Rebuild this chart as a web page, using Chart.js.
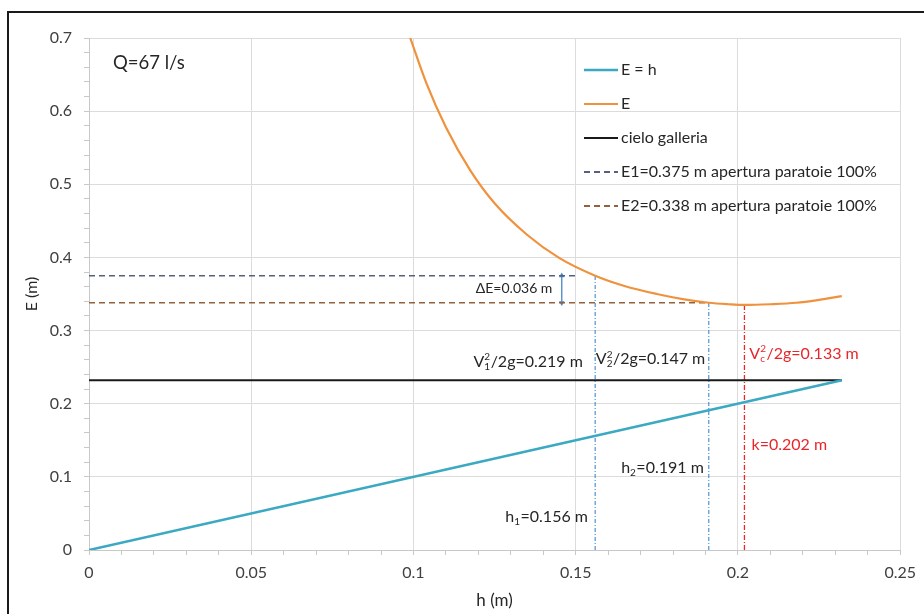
<!DOCTYPE html>
<html>
<head>
<meta charset="utf-8">
<script src="https://cdn.jsdelivr.net/npm/chart.js@4"></script>
<style>
  html, body { margin:0; padding:0; background:#fff; overflow:hidden; }
  #frame { position:absolute; left:7px; top:11px; width:1000px; height:700px; border:2px solid #1a1a1a; }
  #wrap { position:absolute; left:0; top:0; width:924px; height:614px; }
</style>
</head>
<body>
<div id="frame"></div>
<div id="wrap"><canvas id="chart" width="924" height="614"></canvas></div>
<script>

/* DATA */

const lineH = [0, 0.232];            // E = h
const lineE = [0, 0.232];

const curveH = [0.099, 0.104, 0.11, 0.1175, 0.125, 0.135, 0.145, 0.156, 0.165, 0.175, 0.183, 0.191, 0.197, 0.202, 0.210, 0.218, 0.225, 0.232];
const curveE = [0.700, 0.638, 0.578, 0.519, 0.474, 0.431, 0.399, 0.375, 0.361, 0.350, 0.343, 0.338, 0.336, 0.335, 0.336, 0.338, 0.342, 0.347];

const cieloH = [0, 0.232];
const cieloE = [0.232, 0.232];

const e1H = [0, 0.15];
const e1E = [0.375, 0.375];
const e2H = [0, 0.191];
const e2E = [0.338, 0.338];

const h1 = 0.156, h2 = 0.191, hk = 0.202;
const h1Top = 0.375, h2Top = 0.338, hkTop = 0.335;

const deltaH = 0.1457;
const deltaE = [0.338, 0.375];

const xTicks = [0, 0.05, 0.1, 0.15, 0.2, 0.25];
const yTicks = [0, 0.1, 0.2, 0.3, 0.4, 0.5, 0.6, 0.7];

const legendLabels = ["E = h", "E", "cielo galleria",
  "E1=0.375 m apertura paratoie 100%", "E2=0.338 m apertura paratoie 100%"];

/* HELPERS */

const pts = (xs, ys) => xs.map((x, i) => ({ x, y: ys[i] }));
const isMajor = (v, step) => Math.abs(v / step - Math.round(v / step)) < 1e-6;
const FONT = "Lato, 'Open Sans', sans-serif";

const colors = {
  teal: "#3ba9c2",
  orange: "#f0923d",
  black: "#1a1a1a",
  e1: "#55607e",
  e2: "#96603a",
  blue: "#5b9bd5",
  red: "#e8262a"
};

/* DATASETS */

const datasets = [
  { label: legendLabels[0], data: pts(lineH, lineE), borderColor: colors.teal, borderWidth: 2.6 },
  { label: legendLabels[1], data: pts(curveH, curveE), borderColor: colors.orange, borderWidth: 2.2, cubicInterpolationMode: "monotone" },
  { label: legendLabels[2], data: pts(cieloH, cieloE), borderColor: colors.black, borderWidth: 2 },
  { label: legendLabels[3], data: pts(e1H, e1E), borderColor: colors.e1, borderWidth: 1.6, borderDash: [6, 4] },
  { label: legendLabels[4], data: pts(e2H, e2E), borderColor: colors.e2, borderWidth: 1.6, borderDash: [6, 4] },
  { label: "h1", data: pts([h1, h1], [0, h1Top]), borderColor: colors.blue, borderWidth: 1.3, borderDash: [4, 2, 1, 2] },
  { label: "h2", data: pts([h2, h2], [0, h2Top]), borderColor: colors.blue, borderWidth: 1.3, borderDash: [4, 2, 1, 2] },
  { label: "k", data: pts([hk, hk], [0, hkTop]), borderColor: colors.red, borderWidth: 1.3, borderDash: [5, 2, 1, 2] },
  {
    label: "dE", data: pts([deltaH, deltaH], deltaE), borderColor: "#4a86c5", borderWidth: 1.3,
    pointRadius: 3.2, pointStyle: "triangle", pointRotation: [180, 0],
    pointBackgroundColor: "#4a86c5", pointBorderColor: "#4a86c5", pointBorderWidth: 0
  }
].map(d => Object.assign({ showLine: true, fill: false, pointRadius: 0, pointHoverRadius: 0 }, d));

/* TEXT + LEGEND PLUGIN */

function drawRich(ctx, x, y, parts, size, color){
  ctx.fillStyle = color;
  ctx.textBaseline = "middle";
  ctx.textAlign = "left";
  let cx = x;
  parts.forEach(p => {
    if (typeof p === "string"){
      ctx.font = size + "px " + FONT;
      ctx.fillText(p, cx, y);
      cx += ctx.measureText(p).width;
    } else {
      ctx.font = Math.round(size * 0.62) + "px " + FONT;
      let w = 0;
      if (p.sup){ ctx.fillText(p.sup, cx, y - size * 0.3); w = ctx.measureText(p.sup).width; }
      if (p.sub){ ctx.fillText(p.sub, cx, y + size * 0.3); w = Math.max(w, ctx.measureText(p.sub).width); }
      cx += w + 0.5;
    }
  });
}

const notes = [
  { h: 0.0074, E: 0.666, parts: ["Q=67 l/s"], size: 18.5, color: "#262626" },
  { h: 0.1185, E: 0.257, parts: ["V", { sub: "1", sup: "2" }, "/2g=0.219 m"], size: 16, color: "#262626" },
  { h: 0.1562, E: 0.261, parts: ["V", { sub: "2", sup: "2" }, "/2g=0.147 m"], size: 16, color: "#262626" },
  { h: 0.2035, E: 0.268, parts: ["V", { sub: "c", sup: "2" }, "/2g=0.133 m"], size: 16, color: colors.red },
  { h: 0.2042, E: 0.1435, parts: ["k=0.202 m"], size: 16, color: colors.red },
  { h: 0.1640, E: 0.112, parts: ["h", { sub: "2" }, "=0.191 m"], size: 16, color: "#262626" },
  { h: 0.1283, E: 0.045, parts: ["h", { sub: "1" }, "=0.156 m"], size: 16, color: "#262626" }
];

const annotate = {
  id: "annotate",
  afterDatasetsDraw(chart){
    const ctx = chart.ctx;
    const xs = chart.scales.x, ys = chart.scales.y;
    ctx.save();

    notes.forEach(n => drawRich(ctx, xs.getPixelForValue(n.h), ys.getPixelForValue(n.E), n.parts, n.size, n.color));

    // delta E label
    ctx.font = "14px " + FONT;
    ctx.fillStyle = "#262626";
    ctx.textAlign = "right";
    ctx.textBaseline = "middle";
    ctx.fillText("\u0394E=0.036 m", xs.getPixelForValue(0.1428), ys.getPixelForValue(0.357));

    // legend
    const lx = 584, lw = 34;
    chart.data.datasets.slice(0, 5).forEach((d, i) => {
      const y = 70 + i * 34;
      ctx.beginPath();
      ctx.setLineDash(d.borderDash || []);
      ctx.strokeStyle = d.borderColor;
      ctx.lineWidth = Math.max(d.borderWidth, 2);
      ctx.moveTo(lx, y);
      ctx.lineTo(lx + lw, y);
      ctx.stroke();
      ctx.setLineDash([]);
      ctx.font = "16px " + FONT;
      ctx.fillStyle = "#262626";
      ctx.textAlign = "left";
      ctx.fillText(d.label, lx + lw + 3, y);
    });

    // axis titles
    ctx.font = "17px " + FONT;
    ctx.fillStyle = "#262626";
    ctx.textAlign = "center";
    ctx.fillText("h (m)", (chart.chartArea.left + chart.chartArea.right) / 2, 601);
    ctx.font = "16px " + FONT;
    ctx.translate(32, (chart.chartArea.top + chart.chartArea.bottom) / 2);
    ctx.rotate(-Math.PI / 2);
    ctx.fillText("E (m)", 0, 0);
    ctx.restore();
  }
};

/* CHART */

new Chart(document.getElementById("chart"), {
  type: "scatter",
  data: { datasets },
  options: {
    responsive: false,
    animation: false,
    events: [],
    layout: { padding: { top: 38, right: 19, left: 0, bottom: 0 } },
    plugins: { legend: { display: false }, tooltip: { enabled: false } },
    scales: {
      x: {
        type: "linear", min: 0, max: 0.25,
        afterFit: s => { s.height = 64; },
        afterBuildTicks: s => { s.ticks = []; for (let i = 0; i <= 25; i++) s.ticks.push({ value: i / 100 }); },
        ticks: {
          autoSkip: false, maxRotation: 0, padding: 8, color: "#404040",
          font: { family: FONT, size: 16 },
          callback: v => xTicks.some(t => Math.abs(t - v) < 1e-6) ? String(+v.toFixed(2)) : ""
        },
        grid: {
          color: c => isMajor(c.tick.value, 0.05) ? "#dcdcdc" : "rgba(0,0,0,0)",
          tickColor: "#c8c8c8", tickLength: 5, lineWidth: 1
        },
        border: { color: "#c8c8c8" }
      },
      y: {
        type: "linear", min: 0, max: 0.7,
        afterFit: s => { s.width = 89; },
        afterBuildTicks: s => { s.ticks = []; for (let i = 0; i <= 35; i++) s.ticks.push({ value: i / 50 }); },
        ticks: {
          autoSkip: false, padding: 12, color: "#404040",
          font: { family: FONT, size: 16 },
          callback: v => yTicks.some(t => Math.abs(t - v) < 1e-6) ? String(+v.toFixed(1)) : ""
        },
        grid: {
          color: c => isMajor(c.tick.value, 0.1) ? "#dcdcdc" : "rgba(0,0,0,0)",
          tickColor: "#c8c8c8", tickLength: 5, lineWidth: 1
        },
        border: { color: "#c8c8c8" }
      }
    }
  },
  plugins: [annotate]
});

</script>
</body>
</html>
